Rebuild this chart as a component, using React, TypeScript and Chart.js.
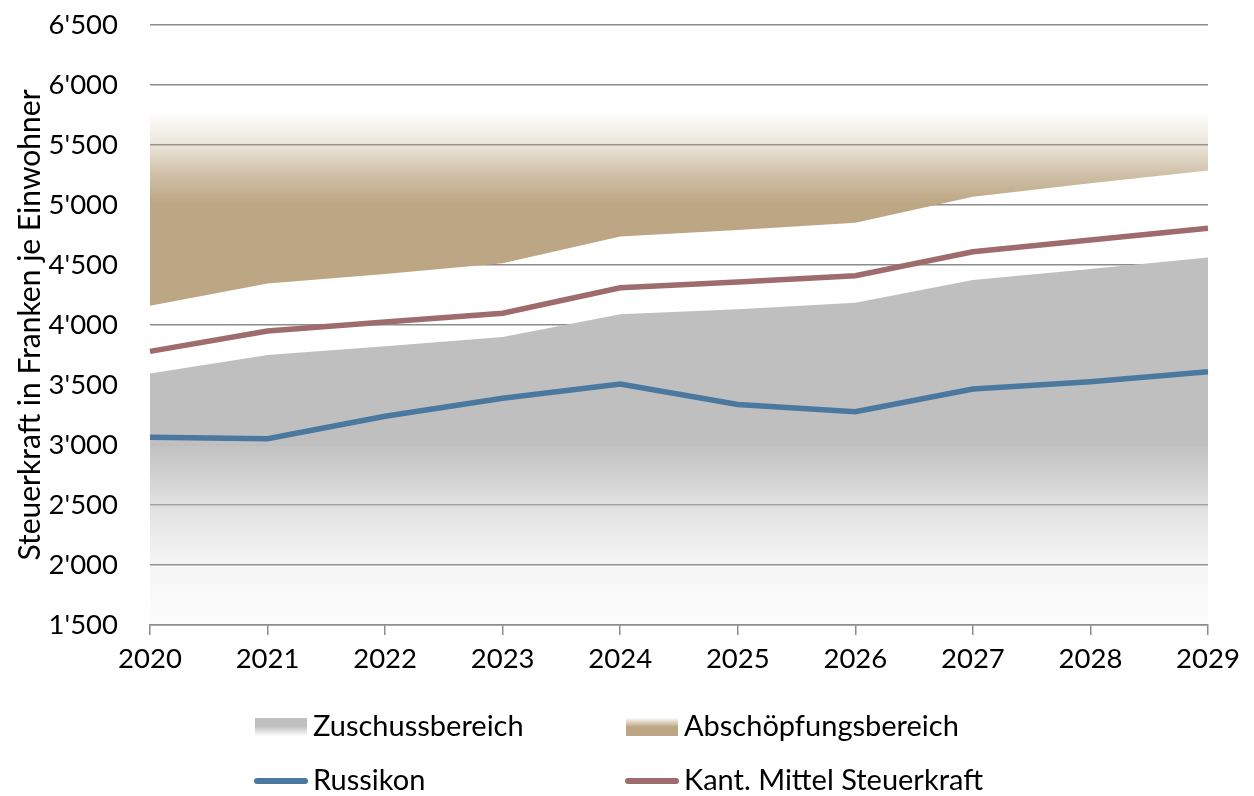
import React, { useEffect, useRef } from "react";
import { Chart, registerables } from "chart.js";

Chart.register(...registerables);

const years = ["2020", "2021", "2022", "2023", "2024", "2025", "2026", "2027", "2028", "2029"];
const russikon = [3064, 3053, 3240, 3390, 3508, 3338, 3278, 3467, 3528, 3610];
const kantMittel = [3780, 3950, 4025, 4098, 4310, 4358, 4410, 4610, 4708, 4806];
const zuschuss = [3595, 3750, 3822, 3900, 4090, 4132, 4186, 4375, 4467, 4562];
const abschoepfung = [4160, 4346, 4425, 4515, 4737, 4792, 4852, 5068, 5181, 5287];
const abschoepfungTop = [5760, 5760, 5760, 5760, 5760, 5760, 5760, 5760, 5760, 5760];

const yMin = 1500;
const yMax = 6500;
const yStep = 500;

const FONT = "Lato, 'Open Sans', sans-serif";
const GREY = [191, 191, 191];
const TAN = [188, 166, 131];
const BLUE = "#4a789f";
const BROWN = "#9e6c6c";

const rgba = (c: number[], a: number) => `rgba(${c[0]},${c[1]},${c[2]},${a})`;

function frac(chart: any, v: number) {
  const { chartArea } = chart;
  const y = chart.scales.y.getPixelForValue(v);
  return Math.min(1, Math.max(0, (y - chartArea.top) / (chartArea.bottom - chartArea.top)));
}

function greyFill(context: any) {
  const chart = context.chart;
  const { ctx, chartArea } = chart;
  if (!chartArea) return rgba(GREY, 1);
  const g = ctx.createLinearGradient(0, chartArea.top, 0, chartArea.bottom);
  g.addColorStop(0, rgba(GREY, 1));
  g.addColorStop(frac(chart, 3040), rgba(GREY, 1));
  g.addColorStop(frac(chart, 2500), rgba(GREY, 0.48));
  g.addColorStop(frac(chart, 2000), rgba(GREY, 0.15));
  g.addColorStop(1, rgba(GREY, 0.03));
  return g;
}

function tanFill(context: any) {
  const chart = context.chart;
  const { ctx, chartArea } = chart;
  if (!chartArea) return rgba(TAN, 1);
  const g = ctx.createLinearGradient(0, chartArea.top, 0, chartArea.bottom);
  g.addColorStop(0, rgba(TAN, 0));
  g.addColorStop(frac(chart, 5760), rgba(TAN, 0.02));
  g.addColorStop(frac(chart, 5500), rgba(TAN, 0.3));
  g.addColorStop(frac(chart, 5250), rgba(TAN, 0.72));
  g.addColorStop(frac(chart, 5000), rgba(TAN, 1));
  g.addColorStop(1, rgba(TAN, 1));
  return g;
}

const legendPlugin = {
  id: "customLegend",
  afterDraw(chart: any) {
    const ctx = chart.ctx;
    ctx.save();
    ctx.font = `29px ${FONT}`;
    ctx.fillStyle = "#000";
    ctx.textBaseline = "middle";
    ctx.textAlign = "left";
    const cols = [255, 626];
    const rows = [727, 781];
    const bw = 52;
    {
      const x = cols[0], y = rows[0] - 9, h = 18;
      const g = ctx.createLinearGradient(0, y, 0, y + h);
      g.addColorStop(0, rgba(GREY, 1));
      g.addColorStop(0.45, rgba(GREY, 1));
      g.addColorStop(1, rgba(GREY, 0.02));
      ctx.fillStyle = g;
      ctx.fillRect(x, y, bw, h);
    }
    {
      const x = cols[1], y = rows[0] - 9, h = 18;
      const g = ctx.createLinearGradient(0, y, 0, y + h);
      g.addColorStop(0, rgba(TAN, 0.05));
      g.addColorStop(0.5, rgba(TAN, 1));
      g.addColorStop(1, rgba(TAN, 1));
      ctx.fillStyle = g;
      ctx.fillRect(x, y, bw, h);
    }
    ctx.lineCap = "round";
    ctx.lineWidth = 6;
    ctx.strokeStyle = BLUE;
    ctx.beginPath();
    ctx.moveTo(cols[0] + 2, rows[1]);
    ctx.lineTo(cols[0] + bw - 2, rows[1]);
    ctx.stroke();
    ctx.strokeStyle = BROWN;
    ctx.beginPath();
    ctx.moveTo(cols[1] + 2, rows[1]);
    ctx.lineTo(cols[1] + bw - 2, rows[1]);
    ctx.stroke();

    ctx.fillStyle = "#000";
    ctx.fillText("Zuschussbereich", cols[0] + bw + 6, rows[0]);
    ctx.fillText("Abschöpfungsbereich", cols[1] + bw + 6, rows[0]);
    ctx.fillText("Russikon", cols[0] + bw + 6, rows[1]);
    ctx.fillText("Kant. Mittel Steuerkraft", cols[1] + bw + 6, rows[1]);
    ctx.restore();
  },
};

export default function App() {
  const ref = useRef<HTMLCanvasElement>(null);

  useEffect(() => {
    document.body.style.margin = "0";
    const canvas = ref.current;
    if (!canvas) return;
    const chart = new Chart(canvas, {
      type: "line",
      data: {
        labels: years,
        datasets: [
          {
            label: "Russikon",
            data: russikon,
            borderColor: BLUE,
            borderWidth: 5.5,
            pointRadius: 0,
            fill: false,
            tension: 0,
          },
          {
            label: "Kant. Mittel Steuerkraft",
            data: kantMittel,
            borderColor: BROWN,
            borderWidth: 5.5,
            pointRadius: 0,
            fill: false,
            tension: 0,
          },
          {
            label: "Zuschussbereich",
            data: zuschuss,
            borderWidth: 0,
            borderColor: "rgba(0,0,0,0)",
            backgroundColor: greyFill,
            pointRadius: 0,
            fill: "start",
            tension: 0,
          },
          {
            label: "Abschöpfungsbereich",
            data: abschoepfung,
            borderWidth: 0,
            borderColor: "rgba(0,0,0,0)",
            backgroundColor: tanFill,
            pointRadius: 0,
            fill: 4,
            tension: 0,
          },
          {
            label: "top",
            data: abschoepfungTop,
            borderWidth: 0,
            borderColor: "rgba(0,0,0,0)",
            pointRadius: 0,
            fill: false,
          },
        ],
      },
      options: {
        animation: false,
        responsive: false,
        maintainAspectRatio: false,
        layout: { padding: { top: 25, right: 46, bottom: 112, left: 12 } },
        plugins: {
          legend: { display: false },
          tooltip: { enabled: false },
        },
        scales: {
          x: {
            offset: false,
            grid: {
              drawOnChartArea: false,
              drawTicks: true,
              tickLength: 10,
              color: "#8c8c8c",
              lineWidth: 1.5,
            },
            border: { display: true, color: "#8c8c8c", width: 1.5 },
            ticks: {
              color: "#000",
              font: { family: FONT, size: 27.5 },
              padding: 8,
              maxRotation: 0,
            },
          },
          y: {
            min: yMin,
            max: yMax,
            afterFit: (scale: any) => {
              scale.width = 138;
            },
            ticks: {
              stepSize: yStep,
              color: "#000",
              font: { family: FONT, size: 27.5 },
              padding: 6,
              callback: (v: any) => {
                const n = Number(v);
                const th = Math.floor(n / 1000);
                const rest = String(n % 1000).padStart(3, "0");
                return `${th}'${rest}`;
              },
            },
            grid: {
              color: "#8c8c8c",
              lineWidth: 1.5,
              drawTicks: true,
              tickLength: 26,
              tickColor: "rgba(0,0,0,0)",
            },
            border: { display: false },
            title: {
              display: true,
              text: "Steuerkraft in Franken je Einwohner",
              color: "#000",
              font: { family: FONT, size: 30 },
              padding: { top: 0, bottom: 0 },
            },
          },
        },
      },
      plugins: [legendPlugin],
    });
    return () => chart.destroy();
  }, []);

  return (
    <div style={{ position: "relative", width: 1254, height: 796 }}>
      <canvas ref={ref} width={1254} height={796} style={{ display: "block", width: 1254, height: 796 }} />
    </div>
  );
}
